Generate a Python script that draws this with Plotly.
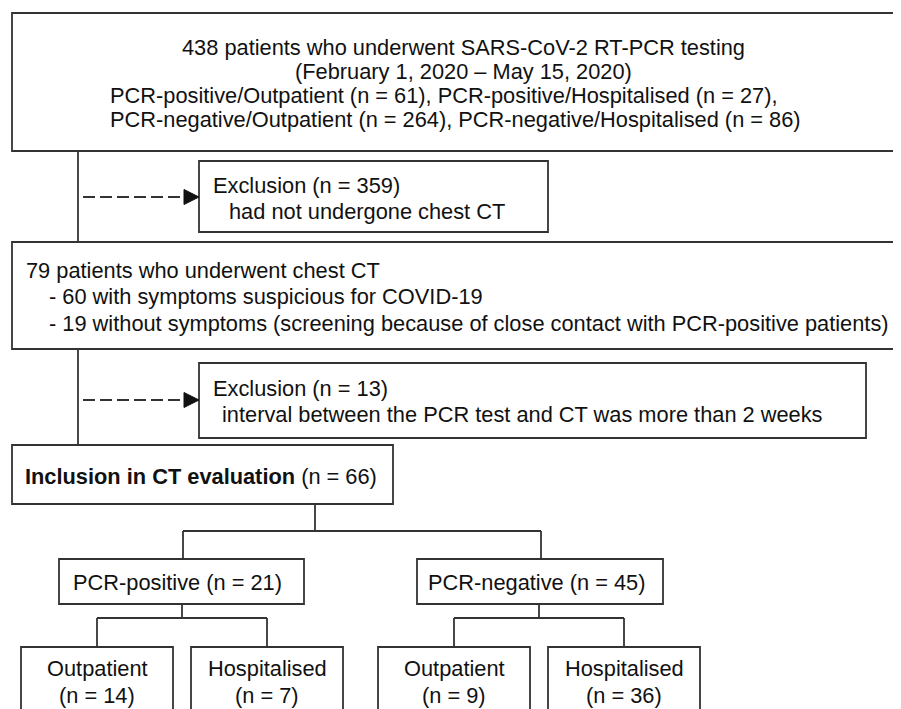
import plotly.graph_objects as go

# ---------------- data ----------------
total_tested = 438
study_period = "(February 1, 2020 \u2013 May 15, 2020)"
initial_groups = ["PCR-positive/Outpatient", "PCR-positive/Hospitalised",
                  "PCR-negative/Outpatient", "PCR-negative/Hospitalised"]
initial_counts = [61, 27, 264, 86]
excluded_no_ct = 359
ct_total = 79
ct_symptomatic = 60
ct_asymptomatic = 19
excluded_interval = 13
included = 66
pcr_groups = ["PCR-positive", "PCR-negative"]
pcr_counts = [21, 45]
care_labels = ["Outpatient", "Hospitalised"]
care_counts = [[14, 7], [9, 36]]

# ---------------- layout geometry ----------------
W, H = 901, 709
OFF = 8  # page body margin
LINE = dict(color="#333333", width=1.8)
FONT = dict(family="Liberation Sans, Arial, sans-serif", size=21.8, color="#111111")

fig = go.Figure()
shapes = []
annos = []


def box(x0, y0, x1, y1):
    shapes.append(dict(type="rect", xref="x", yref="y", x0=x0, y0=y0, x1=x1, y1=y1,
                       line=LINE, fillcolor="white", layer="below"))


def seg(x0, y0, x1, y1, dash="solid"):
    shapes.append(dict(type="line", xref="x", yref="y", x0=x0, y0=y0, x1=x1, y1=y1,
                       line=dict(color=LINE["color"], width=LINE["width"], dash=dash)))


def txt(x, y, s, anchor="left"):
    annos.append(dict(x=x, y=y, xref="x", yref="y", text=s, showarrow=False,
                      xanchor=anchor, yanchor="middle", font=FONT, align=anchor))


def arrow(x0, x1, y):
    seg(x0, y, x1 - 14, y, dash="12px,5px")
    shapes.append(dict(type="path", xref="x", yref="y",
                       path=f"M {x1-15},{y-7.5} L {x1},{y} L {x1-15},{y+7.5} Z",
                       fillcolor="#111111", line=dict(color="#111111", width=1)))


# top box
box(12, 13, 910, 151)
txt(463, 47, f"{total_tested} patients who underwent SARS-CoV-2 RT-PCR testing", "center")
txt(463, 71, study_period, "center")
txt(108, 95, f"{initial_groups[0]} (n = {initial_counts[0]}), {initial_groups[1]} (n = {initial_counts[1]}),")
txt(108, 119, f"{initial_groups[2]} (n = {initial_counts[2]}), {initial_groups[3]} (n = {initial_counts[3]})")

# main vertical trunk
seg(78, 151, 78, 242)
seg(78, 349, 78, 445)

# exclusion 1
box(199, 161, 548, 232)
arrow(83, 199, 197)
txt(211, 185, f"Exclusion (n = {excluded_no_ct})")
txt(227, 211, "had not undergone chest CT")

# CT box
box(12, 242, 910, 349)
txt(24, 270, f"{ct_total} patients who underwent chest CT")
txt(47, 296, f"- {ct_symptomatic} with symptoms suspicious for COVID-19")
txt(47, 323, f"- {ct_asymptomatic} without symptoms (screening because of close contact with PCR-positive patients)")

# exclusion 2
box(199, 363, 866, 438)
arrow(83, 199, 400)
txt(211, 388, f"Exclusion (n = {excluded_interval})")
txt(220, 414, "interval between the PCR test and CT was more than 2 weeks")

# inclusion box
box(12, 445, 393, 504)
txt(23, 476, f"<b>Inclusion in CT evaluation</b> (n = {included})")

# split to PCR groups
seg(315, 504, 315, 531)
seg(183, 531, 541, 531)
pcr_boxes = [(59, 304), (417, 663)]
pcr_centers = [183, 541]
for (bx0, bx1), cx, g, n in zip(pcr_boxes, pcr_centers, pcr_groups, pcr_counts):
    seg(cx, 531, cx, 559)
    box(bx0, 559, bx1, 604)
    txt((bx0 + bx1) / 2 - 4, 582, f"{g} (n = {n})", "center")

# care split
care_boxes = [[(21, 173), (191, 343)], [(378, 530), (548, 700)]]
drops = [182, 539]
for gi in range(2):
    seg(drops[gi], 604, drops[gi], 618)
    c0 = (care_boxes[gi][0][0] + care_boxes[gi][0][1]) / 2
    c1 = (care_boxes[gi][1][0] + care_boxes[gi][1][1]) / 2
    seg(c0, 618, c1, 618)
    for ci in range(2):
        bx0, bx1 = care_boxes[gi][ci]
        cx = (bx0 + bx1) / 2
        seg(cx, 618, cx, 647)
        box(bx0, 647, bx1, 720)
        txt(cx, 668, care_labels[ci], "center")
        txt(cx, 695, f"(n = {care_counts[gi][ci]})", "center")

fig.update_layout(
    width=W - OFF, height=H - OFF, margin=dict(l=0, r=0, t=0, b=0),
    paper_bgcolor="white", plot_bgcolor="white",
    xaxis=dict(range=[OFF, W], visible=False, fixedrange=True),
    yaxis=dict(range=[H, OFF], visible=False, fixedrange=True),
    shapes=shapes, annotations=annos, showlegend=False,
)
fig.write_html("out.html")
